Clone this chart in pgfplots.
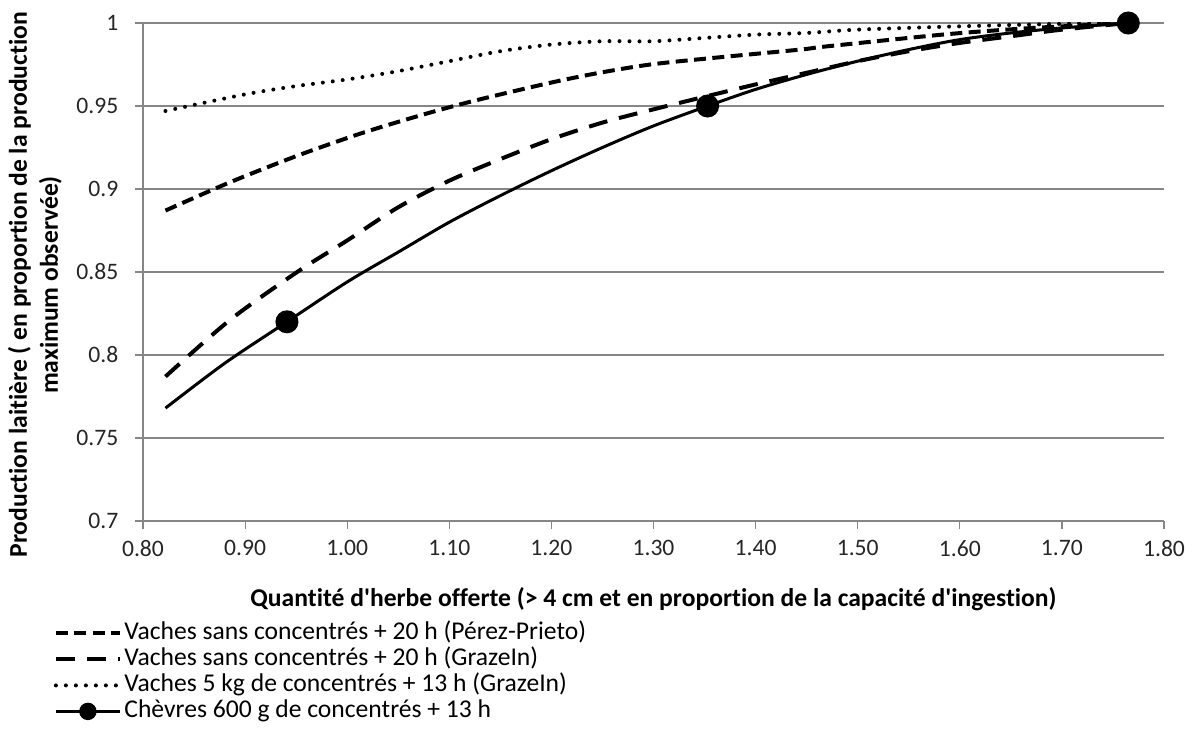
\documentclass[border=0pt]{standalone}
\usepackage{pgfplots}
\pgfplotsset{compat=1.18}
\usepackage{fontspec}
\setmainfont{Carlito}[Ligatures={TeXOff,NoCommon}]
\definecolor{gridgray}{RGB}{134,134,134}

\begin{document}
\begin{tikzpicture}
\begin{axis}[
  name=ax,
  width=510.5pt, height=249pt, scale only axis,
  xmin=0.8, xmax=1.8, ymin=0.7, ymax=1,
  xtick={0.8,0.9,1.0,1.1,1.2,1.3,1.4,1.5,1.6,1.7,1.8},
  ytick={0.7,0.75,0.8,0.85,0.9,0.95,1},
  axis x line*=bottom, axis y line*=left,
  axis line style={gridgray, line width=0.6pt, -},
  ymajorgrids, major grid style={gridgray, line width=0.6pt},
  tick align=outside, major tick length=3.8pt,
  tick style={gridgray, line width=0.6pt},
  /pgf/number format/assume math mode=true,
  tick label style={font=\fontsize{11.8}{13}\selectfont, text=black!85},
  yticklabel style={xshift=-5pt, /pgf/number format/.cd, fixed, precision=2},
  xticklabel style={yshift=-2.5pt, /pgf/number format/.cd, fixed, fixed zerofill, precision=2},
  every axis x label/.style={at={(axis description cs:0.5,0)}, anchor=center,
    yshift=-39pt, font=\bfseries\fontsize{12.8}{14}\selectfont},
  every axis y label/.style={at={(axis description cs:-0.106,0.474)}, anchor=center,
    rotate=90, align=center, font=\bfseries\fontsize{12.8}{15.5}\selectfont},
  xlabel={Quantité d'herbe offerte (> 4 cm et en proportion de la capacité d'ingestion)},
  ylabel={Production laitière ( en proportion de la production\\maximum observée)},
  legend style={at={(axis description cs:0,0)}, anchor=north west,
    xshift=-44.75pt, yshift=-49.5pt, draw=none, fill=none,
    font=\fontsize{12.8}{13}\selectfont, row sep=0pt, inner sep=0pt,
    nodes={inner xsep=1.25pt, inner ysep=0.5pt, text height=9pt, text depth=3pt}},
  legend cell align=left,
  legend image code/.code={\draw[#1, mark indices={2}, mark size=3.6pt]
    plot coordinates {(0pt,0pt) (16pt,0pt) (32pt,0pt)};},
]

% Vaches sans concentres + 20 h (Perez-Prieto)
\addplot[black, line width=2pt, dash pattern=on 6pt off 3.2pt, smooth, tension=0.5] coordinates {
(0.822,0.887) (0.885,0.904) (0.951,0.920) (1.016,0.934) (1.081,0.946)
(1.130,0.954) (1.199,0.964) (1.247,0.970) (1.297,0.975) (1.359,0.979)
(1.444,0.984) (1.471,0.986) (1.583,0.993) (1.658,0.9965) (1.732,0.999)
(1.765,1.000)};
\addlegendentry{Vaches sans concentrés + 20 h (Pérez-Prieto)}

% Vaches sans concentres + 20 h (GrazeIn)
\addplot[black, line width=2pt, dash pattern=on 9.5pt off 6pt, smooth, tension=0.5] coordinates {
(0.822,0.787) (0.885,0.821) (0.951,0.850) (1.000,0.869) (1.050,0.889)
(1.100,0.905) (1.150,0.918) (1.200,0.930) (1.250,0.940) (1.300,0.948)
(1.353,0.956) (1.400,0.963) (1.450,0.970) (1.500,0.977) (1.550,0.983)
(1.600,0.988) (1.650,0.992) (1.700,0.996) (1.765,1.000)};
\addlegendentry{Vaches sans concentrés + 20 h (GrazeIn)}

% Vaches 5 kg de concentres + 13 h (GrazeIn)
\addplot[black, line width=2pt, line cap=round, dash pattern=on 0pt off 5pt, smooth, tension=0.5] coordinates {
(0.822,0.947) (0.900,0.957) (0.950,0.962) (1.000,0.966) (1.050,0.971)
(1.100,0.977) (1.150,0.983) (1.200,0.987) (1.250,0.989) (1.300,0.989)
(1.350,0.991) (1.400,0.993) (1.450,0.994) (1.500,0.996) (1.600,0.998)
(1.700,0.9995) (1.765,1.000)};
\addlegendentry{Vaches 5 kg de concentrés + 13 h (GrazeIn)}

% Chevres 600 g de concentres + 13 h
\addplot[black, line width=1.5pt, smooth, tension=0.5, mark=*, mark size=5pt,
  mark indices={3,11,19}, mark options={solid, fill=black}] coordinates {
(0.822,0.768) (0.880,0.795) (0.941,0.820) (1.000,0.844) (1.050,0.862)
(1.100,0.880) (1.150,0.896) (1.200,0.911) (1.250,0.925) (1.300,0.938)
(1.353,0.950) (1.400,0.960) (1.450,0.969) (1.500,0.977) (1.550,0.984)
(1.600,0.990) (1.650,0.994) (1.700,0.997) (1.765,1.000)};
\addlegendentry{Chèvres 600 g de concentrés + 13 h}
\end{axis}
\path[use as bounding box] ([xshift=-71.5pt,yshift=-105pt]ax.south west)
  rectangle ([xshift=16.5pt,yshift=11.5pt]ax.north east);
\end{tikzpicture}
\end{document}
